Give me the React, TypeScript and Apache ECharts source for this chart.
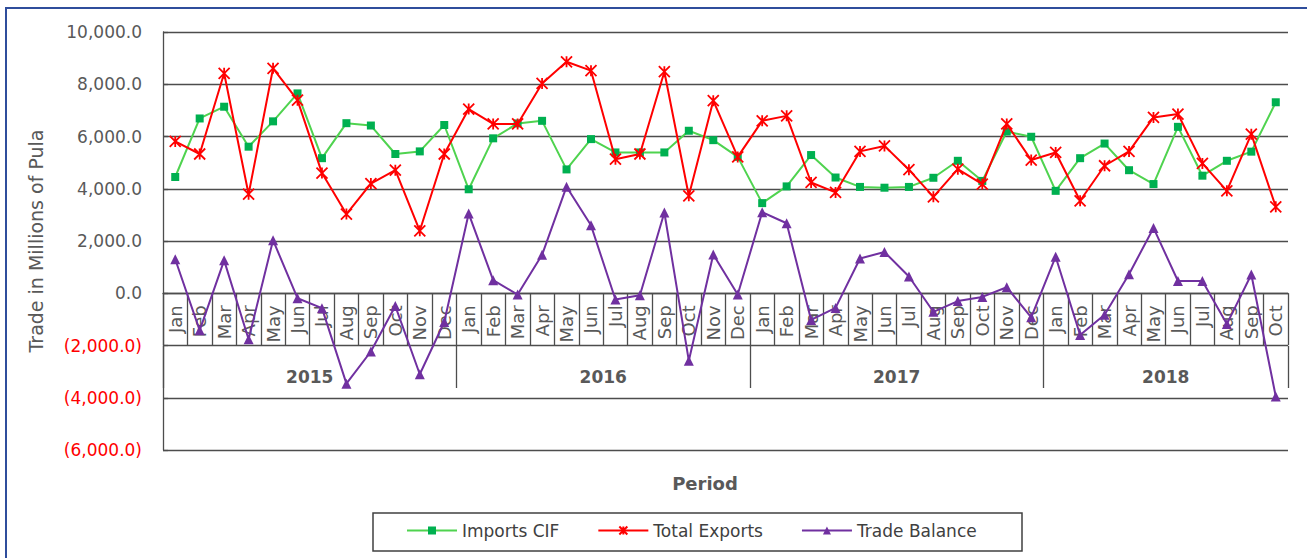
import React, { useEffect, useRef } from 'react';
import * as echarts from 'echarts';

const months = [
  'Jan', 'Feb', 'Mar', 'Apr', 'May', 'Jun', 'Jul', 'Aug', 'Sep', 'Oct', 'Nov', 'Dec',
  'Jan', 'Feb', 'Mar', 'Apr', 'May', 'Jun', 'Jul', 'Aug', 'Sep', 'Oct', 'Nov', 'Dec',
  'Jan', 'Feb', 'Mar', 'Apr', 'May', 'Jun', 'Jul', 'Aug', 'Sep', 'Oct', 'Nov', 'Dec',
  'Jan', 'Feb', 'Mar', 'Apr', 'May', 'Jun', 'Jul', 'Aug', 'Sep', 'Oct',
];
const years = ['2015', '2016', '2017', '2018'];
const yearStarts = [0, 12, 24, 36, 46];
const yearCenters = [6, 18, 30, 41];

const importsCIF = [
  4450, 6690, 7140, 5610, 6580, 7650, 5170, 6510, 6420, 5330, 5430, 6440,
  3980, 5930, 6500, 6600, 4740, 5900, 5390, 5390, 5390, 6220, 5860, 5220,
  3450, 4090, 5290, 4430, 4070, 4040, 4070, 4420, 5070, 4300, 6190, 5990,
  3920, 5170, 5730, 4710, 4180, 6370, 4500, 5070, 5420, 7310,
];
const totalExports = [
  5810, 5330, 8420, 3790, 8610, 7390, 4600, 3030, 4200, 4710, 2390, 5330,
  7050, 6480, 6480, 8030, 8860, 8520, 5130, 5330, 8480, 3730, 7370, 5220,
  6600, 6790, 4240, 3860, 5430, 5640, 4730, 3690, 4750, 4180, 6480, 5100,
  5390, 3540, 4880, 5430, 6730, 6860, 4970, 3920, 6090, 3310,
];
const tradeBalance = [
  1300, -1420, 1260, -1760, 2030, -190, -570, -3460, -2230, -490, -3100, -1100,
  3050, 500, -50, 1470, 4080, 2600, -240, -80, 3090, -2580, 1480, -50,
  3100, 2680, -1020, -560, 1330, 1580, 640, -710, -300, -140, 230, -920,
  1400, -1600, -820, 730, 2500, 470, 470, -1180, 720, -3950,
];

const FONT = 'DejaVu Sans';
const AXIS_COLOR = '#4d4d4d';
const TEXT_COLOR = '#595959';

function fmt(v: number | string): string {
  const n = Number(v);
  const s = Math.abs(n).toLocaleString('en-US', { minimumFractionDigits: 1, maximumFractionDigits: 1 });
  return n < 0 ? `(${s})` : s;
}

export default function App() {
  const ref = useRef<HTMLDivElement>(null);
  useEffect(() => {
    if (!ref.current) return;
    const chart = echarts.init(ref.current, null, { renderer: 'svg' });
    const lineStyle = { color: AXIS_COLOR, width: 1.3 };
    chart.setOption({
      animation: false,
      backgroundColor: '#ffffff',
      textStyle: { fontFamily: FONT },
      grid: { left: 163, right: 19, top: 32, bottom: 108, containLabel: false },
      xAxis: [
        {
          type: 'category',
          data: months,
          boundaryGap: true,
          position: 'bottom',
          offset: -156.75,
          axisLine: { show: true, onZero: false, lineStyle },
          axisTick: { show: true, length: 52, interval: 0, alignWithLabel: false, lineStyle },
          axisLabel: { interval: 0, rotate: 90, margin: 12, fontSize: 18, color: TEXT_COLOR, fontFamily: FONT },
          splitLine: { show: false },
        },
        {
          type: 'value',
          min: 0,
          max: 46,
          position: 'bottom',
          offset: -104,
          axisLine: { show: false, onZero: false },
          axisTick: { show: true, customValues: yearStarts, length: 42, inside: false, lineStyle },
          axisLabel: {
            show: true,
            customValues: yearCenters,
            margin: 22,
            fontSize: 17,
            fontWeight: 'bold',
            color: TEXT_COLOR,
            fontFamily: FONT,
            formatter: (v: number) => years[yearCenters.indexOf(Number(v))] ?? '',
          },
          splitLine: { show: false },
        },
      ],
      yAxis: {
        type: 'value',
        min: -6000,
        max: 10000,
        interval: 2000,
        name: 'Trade in Millions of Pula',
        nameLocation: 'middle',
        nameGap: 118,
        nameTextStyle: { fontSize: 19, color: TEXT_COLOR, fontFamily: FONT },
        axisLine: { show: true, onZero: false, lineStyle },
        axisTick: { show: true, inside: true, length: 5, lineStyle },
        axisLabel: {
          margin: 21,
          fontSize: 17,
          fontFamily: FONT,
          color: (v: any) => (Number(v) < 0 ? '#ff0000' : TEXT_COLOR),
          formatter: fmt,
        },
        splitLine: { show: true, lineStyle: { color: AXIS_COLOR, width: 1.3 } },
      },
      legend: {
        left: 406,
        top: 522,
        padding: 0,
        itemWidth: 50,
        itemHeight: 10,
        itemGap: 38,
        textStyle: { fontSize: 17, color: '#404040', fontFamily: FONT },
        data: ['Imports CIF', 'Total Exports', 'Trade Balance'],
      },
      graphic: [
        {
          type: 'rect',
          shape: { x: 6, y: 8, width: 1400, height: 700 },
          style: { fill: 'none', stroke: '#2f4d9c', lineWidth: 2 },
          silent: true,
        },
        {
          type: 'rect',
          shape: { x: 373, y: 513, width: 649, height: 38 },
          style: { fill: 'none', stroke: '#404040', lineWidth: 1.5 },
          silent: true,
        },
        {
          type: 'text',
          x: 705,
          y: 483,
          style: {
            text: 'Period',
            fontSize: 18,
            fontWeight: 'bold',
            fontFamily: FONT,
            fill: TEXT_COLOR,
            align: 'center',
            verticalAlign: 'middle',
          },
          silent: true,
        },
      ],
      series: [
        {
          name: 'Imports CIF',
          type: 'line',
          data: importsCIF,
          symbol: 'rect',
          symbolSize: 8,
          itemStyle: { color: '#00b050' },
          lineStyle: { color: '#4fd34f', width: 2 },
          z: 3,
        },
        {
          name: 'Total Exports',
          type: 'line',
          data: totalExports,
          symbol: 'path://M0,0L10,10M10,0L0,10M5,0L5,10',
          symbolSize: 11,
          itemStyle: { color: '#ff0000', borderColor: '#ff0000', borderWidth: 1.8 },
          lineStyle: { color: '#ff0000', width: 2 },
          z: 4,
        },
        {
          name: 'Trade Balance',
          type: 'line',
          data: tradeBalance,
          symbol: 'triangle',
          symbolSize: 10,
          itemStyle: { color: '#7030a0' },
          lineStyle: { color: '#7030a0', width: 2 },
          z: 5,
        },
      ],
    });
    return () => chart.dispose();
  }, []);
  return (
    <div
      ref={ref}
      style={{ position: 'fixed', left: 0, top: 0, width: 1307, height: 558, background: '#fff' }}
    />
  );
}
